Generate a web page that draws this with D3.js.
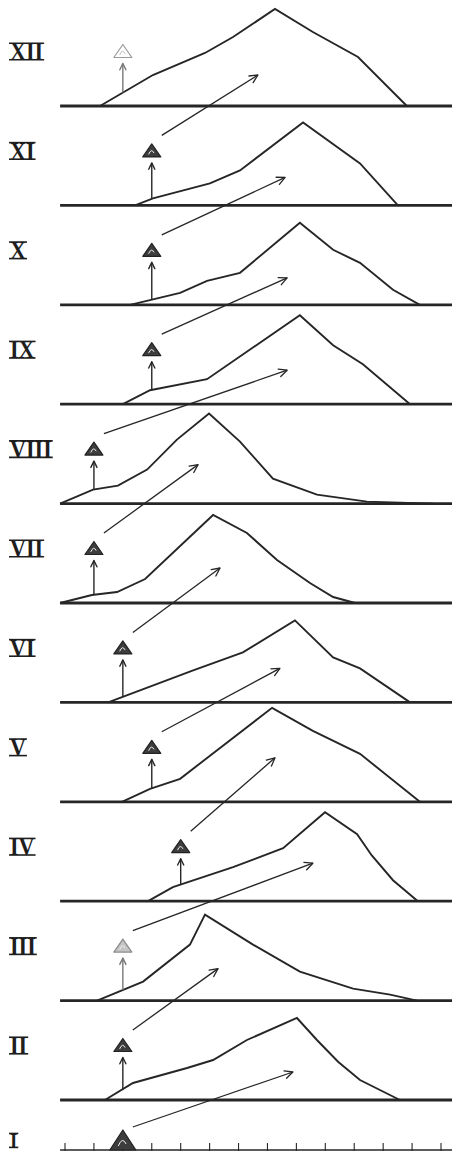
<!DOCTYPE html>
<html>
<head>
<meta charset="utf-8">
<script src="https://cdn.jsdelivr.net/npm/d3@7/dist/d3.min.js"></script>
<style>
  body { margin: 0; background: #fff; }
  svg { display: block; }
</style>
</head>
<body>
<div id="chart"></div>
<script>
// panels, bottom (I) to top (XII)
var panels = ['I', 'II', 'III', 'IV', 'V', 'VI', 'VII', 'VIII', 'IX', 'X', 'XI', 'XII'];

// distribution curves: [scale position, height]
var curveII   = [[1.38,0],[2.35,17],[4.22,32],[5.12,40],[6.29,60],[8.02,82],[8.71,60],[9.45,38],[10.2,20],[11.58,0]];
var curveIII  = [[1.11,0],[2.7,19],[4.32,56],[4.84,86],[6.5,56],[8.12,29],[9.96,12],[11.24,6],[12.17,0]];
var curveIV   = [[2.87,0],[3.73,14],[5.81,34],[7.54,53],[8.99,89],[10.1,67],[10.6,46],[11.34,21],[12.2,0]];
var curveV    = [[1.97,0],[2.94,13],[3.98,23],[7.16,94],[8.57,71],[10.2,48],[12.27,0]];
var curveVI   = [[1.49,0],[4.43,32],[6.15,50],[7.95,82],[9.27,45],[10.2,34],[11.93,0]];
var curveVII  = [[-0.17,0],[0.93,8],[1.8,11],[2.77,24],[5.12,88],[6.29,70],[7.33,43],[8.47,20],[9.27,6],[10.03,0]];
var curveVIII = [[-0.17,0],[0.97,14],[1.83,18],[2.84,34],[3.87,64],[4.98,90],[6.05,62],[7.19,25],[8.71,9],[10.44,2],[12.72,0]];
var curveIX   = [[2.0,0],[2.94,14],[4.91,25],[8.12,89],[9.27,59],[10.3,40],[11.93,0]];
var curveX    = [[2.25,0],[3.98,12],[4.91,24],[6.05,32],[8.12,82],[9.27,55],[10.2,42],[11.34,15],[12.27,0]];
var curveXI   = [[2.42,0],[3.04,7],[5.01,22],[6.05,35],[8.23,83],[10.2,42],[11.51,0]];
var curveXII  = [[1.21,0],[3.04,31],[4.84,53],[5.81,69],[7.26,97],[8.57,74],[10.13,49],[11.82,0]];
var curves = [null, curveII, curveIII, curveIV, curveV, curveVI, curveVII, curveVIII, curveIX, curveX, curveXI, curveXII];

// triangle mark position on the scale, per panel
var markPos = [2, 2, 2, 4, 3, 2, 1, 1, 3, 3, 3, 2];

// tip of the slanting arrow that leaves each mark, drawn in the panel above: [position, height]
var arrowTips = [[7.88,28],[5.29,32],[8.57,38],[7.26,44],[7.43,34],[5.36,35],[4.6,39],[7.68,34],[7.68,27],[7.61,28],[6.67,31]];

// scale ticks on panel I
var ticks = d3.range(0, 14);

var W = 452, H = 1156;
var ink = '#262626';

var svg = d3.select('#chart').append('svg')
    .attr('width', W)
    .attr('height', H);

svg.append('rect').attr('width', W).attr('height', H).attr('fill', '#fff');

var x = d3.scaleLinear().domain([0, 13]).range([65, 441]);
var hgt = d3.scaleLinear().domain([0, 100]).range([0, 100]);
var rowY = d3.scaleLinear().domain([1, 11]).range([1100, 106]);

function baseY(i) { return i === 0 ? 1150 : rowY(i); }
function markY(i) { return i === 0 ? baseY(0) - 10 : baseY(i) - hgt(55); }

// height of a curve at a position (linear between the read points)
function curveAt(pts, u) {
  if (!pts) return 0;
  for (var k = 1; k < pts.length; k++) {
    if (u <= pts[k][0]) {
      var a = pts[k-1], b = pts[k];
      return a[1] + (b[1] - a[1]) * (u - a[0]) / (b[0] - a[0]);
    }
  }
  return 0;
}

function arrowHead(g, x1, y1, x2, y2, len, w, col) {
  var ang = Math.atan2(y2 - y1, x2 - x1);
  var spread = 0.45;
  var p1 = [x2 - len * Math.cos(ang - spread), y2 - len * Math.sin(ang - spread)];
  var p2 = [x2 - len * Math.cos(ang + spread), y2 - len * Math.sin(ang + spread)];
  g.append('path')
    .attr('d', 'M' + p1 + 'L' + x2 + ',' + y2 + 'L' + p2)
    .attr('fill', 'none')
    .attr('stroke', col || ink)
    .attr('stroke-width', w)
    .attr('stroke-linecap', 'round')
    .attr('stroke-linejoin', 'round');
}

var line = d3.line()
    .x(function(d) { return x(d[0]); });

panels.forEach(function(name, i) {
  var g = svg.append('g').attr('class', 'panel panel-' + name);
  var by = baseY(i);

  // baseline
  g.append('line')
    .attr('x1', x(-0.17))
    .attr('x2', W)
    .attr('y1', by)
    .attr('y2', by)
    .attr('stroke', ink)
    .attr('stroke-width', i === 0 ? 1.4 : 2.8);

  if (i === 0) {
    g.selectAll('.tick').data(ticks).enter()
      .append('line')
      .attr('class', 'tick')
      .attr('x1', function(d) { return x(d); })
      .attr('x2', function(d) { return x(d); })
      .attr('y1', by - 7)
      .attr('y2', by + 1)
      .attr('stroke', ink)
      .attr('stroke-width', 1.1);
  }

  // distribution curve
  if (curves[i]) {
    line.y(function(d) { return by - hgt(d[1]); });
    g.append('path')
      .datum(curves[i])
      .attr('d', line)
      .attr('fill', 'none')
      .attr('stroke', ink)
      .attr('stroke-width', 1.9)
      .attr('stroke-linejoin', 'miter');
  }

  // label: condensed bold serif numeral with bars above and below
  var fs = i === 0 ? 22 : 26, sx = 0.85;
  var ly = markY(i);
  var lab = g.append('text')
    .attr('transform', 'translate(10,' + ly + ') scale(' + sx + ',1)')
    .attr('dy', '0.35em')
    .attr('font-family', '"Liberation Serif", "DejaVu Serif", serif')
    .attr('font-weight', 'bold')
    .attr('font-size', fs)
    .attr('fill', '#1e1e1e')
    .text(name);
  var lw = lab.node().getComputedTextLength() * sx;
  var capTop = ly + 0.35 * fs - 0.66 * fs, capBot = ly + 0.35 * fs;
  [capTop + 0.3, capBot - 0.3].forEach(function(yy) {
    g.append('line')
      .attr('x1', 9).attr('x2', 10 + lw + 1)
      .attr('y1', yy).attr('y2', yy)
      .attr('stroke', '#1e1e1e')
      .attr('stroke-width', 1.6);
  });

  // triangle mark
  var mx = x(markPos[i]);
  var my = markY(i);
  var tw = i === 0 ? 13 : 9, th = i === 0 ? 20 : 13;
  var triTop = i === 0 ? by - th : my - th / 2;
  var fill = '#3d3d3d', stroke = '#222';
  if (name === 'XII') { fill = '#fff'; stroke = '#9a9a9a'; }
  if (name === 'III') { fill = '#c4c4c4'; stroke = '#8a8a8a'; }
  g.append('path')
    .attr('d', 'M' + (mx - tw) + ',' + (triTop + th) + 'L' + mx + ',' + triTop + 'L' + (mx + tw) + ',' + (triTop + th) + 'Z')
    .attr('fill', fill)
    .attr('stroke', stroke)
    .attr('stroke-width', 1.2)
    .attr('stroke-linejoin', 'round');
  g.append('path')
    .attr('d', 'M' + (mx - tw * 0.35) + ',' + (triTop + th * 0.8) + 'q' + (tw * 0.3) + ',' + (-th * 0.5) + ' ' + (tw * 0.6) + ',' + (-th * 0.1))
    .attr('fill', 'none')
    .attr('stroke', name === 'XII' ? '#bbb' : '#eee')
    .attr('stroke-width', 1);

  // upward arrow from the curve to the mark
  if (i > 0) {
    var y0 = by - hgt(curveAt(curves[i], markPos[i]));
    var y1 = my + th / 2 + 6;
    var upCol = (name === 'XII' || name === 'III') ? '#777' : ink;
    g.append('line')
      .attr('x1', mx).attr('x2', mx)
      .attr('y1', y0).attr('y2', y1)
      .attr('stroke', upCol)
      .attr('stroke-width', 1.4);
    arrowHead(g, mx, y0, mx, y1, 7, 1.4, upCol);
  }

  // slanting arrow from the mark into the panel above
  if (i < panels.length - 1) {
    var tip = arrowTips[i];
    var tx = x(tip[0]);
    var ty = baseY(i + 1) - hgt(tip[1]);
    var ax = mx + 10;
    var ay = (i === 0 ? by - 23 : my - 15);
    g.append('line')
      .attr('x1', ax).attr('y1', ay)
      .attr('x2', tx).attr('y2', ty)
      .attr('stroke', ink)
      .attr('stroke-width', 1.3);
    arrowHead(g, ax, ay, tx, ty, 9, 1.3);
  }
});
</script>
</body>
</html>
